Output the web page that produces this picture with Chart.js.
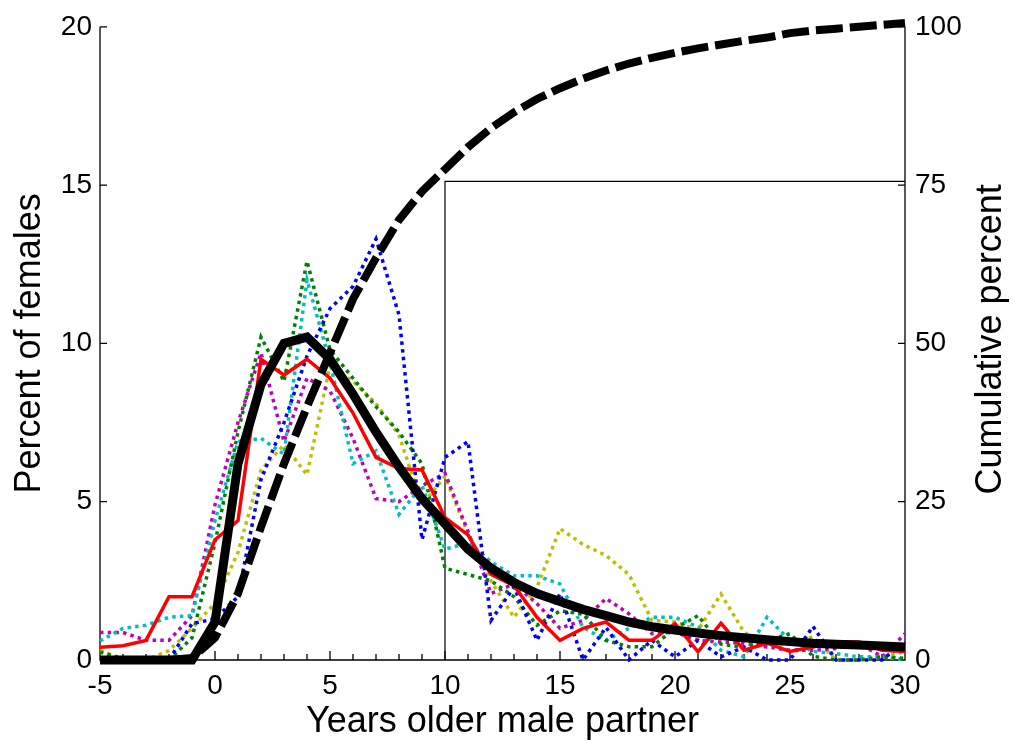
<!DOCTYPE html>
<html><head><meta charset="utf-8">
<script src="https://cdn.jsdelivr.net/npm/chart.js@4/dist/chart.umd.min.js"></script>
<style>html,body{margin:0;padding:0;background:#fff;overflow:hidden}</style>
</head><body>
<canvas id="c" width="1013" height="749"></canvas>
<script>
// ---- data (x = years older male partner, -5 .. 30) ----
const years = [-5,-4,-3,-2,-1,0,1,2,3,4,5,6,7,8,9,10,11,12,13,14,15,16,17,18,19,20,21,22,23,24,25,26,27,28,29,30];
const fitted = [0,0,0,0,0,1.2,6.2,8.7,10.0,10.2,9.5,8.4,7.2,6.1,5.1,4.3,3.5,2.9,2.45,2.1,1.85,1.6,1.4,1.2,1.05,0.95,0.85,0.77,0.7,0.64,0.58,0.53,0.5,0.47,0.44,0.41];
const cumulative = [0,0,0,0,0.3,3.5,10.5,21,31,40,48.5,57,63.5,69.5,74,77.5,81,84,86.5,88.6,90.3,91.8,93.1,94.2,95.1,95.9,96.6,97.2,97.8,98.3,99.0,99.4,99.7,100.0,100.3,100.6];
const seriesRed = [0.4,0.45,0.62,2.0,2.0,3.8,4.4,9.5,9.0,9.5,8.9,7.8,6.4,6.05,6.0,4.5,3.95,2.7,2.35,1.35,0.62,1.0,1.2,0.62,0.62,1.15,0.26,1.16,0.31,0.53,0.27,0.41,0.57,0.57,0.31,0.27];
const seriesGreen = [0.25,0.05,0,0,0.7,3.7,7.2,10.2,8.8,12.6,9.8,8.9,8.0,7.2,6.2,2.9,2.7,2.5,2.0,1.1,1.55,1.45,0.62,0.42,0.42,1.0,1.4,0.5,0.4,0.62,0.83,0.12,0,0,0.1,0.05];
const seriesCyan = [0.6,1.0,1.1,1.35,1.4,4.4,6.9,7.0,6.5,12.0,9.4,6.2,6.6,4.6,5.5,3.5,3.7,3.1,2.66,2.66,2.4,1.03,0.62,1.0,1.35,1.35,1.04,0.31,0.1,1.35,0.62,0.27,0.2,0.1,0.1,0];
const seriesMagenta = [0.87,0.87,0.62,0.62,1.4,4.9,7.5,9.7,6.9,8.9,8.5,7.0,5.1,5.0,5.5,5.9,4.06,2.1,2.4,1.78,1.0,1.25,1.94,1.46,0.83,0.88,0.62,0.57,0.53,0.41,0.31,0.31,0.36,0.53,0.1,0.83];
const seriesYellow = [0.3,0,0,0.3,1.0,1.8,3.4,6.0,6.8,5.85,9.3,8.8,8.1,7.1,4.9,5.8,4.0,2.5,1.35,2.3,4.15,3.65,3.3,2.7,1.25,1.2,0.94,2.08,0.88,0.41,0.53,0.73,0,0,0.1,0.26];
const seriesBlue = [0,0,0,0,1.15,1.3,2.0,5.7,7.5,9.6,11.1,11.8,13.3,10.9,3.8,6.4,6.9,1.25,2.3,0.62,2.1,0,1.03,0,0.62,0.1,0.62,0.1,0.41,0,0,1.06,0,0,0,0.57];
const boxX = [10,10,30];
const boxY = [0,15.12,15.12];
const xTicks = [-5,0,5,10,15,20,25,30];
const leftTicks = [0,5,10,15,20];
const rightTicks = [0,25,50,75,100];
const xTitle = 'Years older male partner';
const yTitle = 'Percent of females';
const y2Title = 'Cumulative percent';

const FONT = '"Liberation Sans", Arial, sans-serif';
const pts = (ys) => ys.map((v,i)=>({x:years[i], y:v}));

function dotted(label, color, data, order){
  return {label, data: pts(data), borderColor: color, borderWidth: 3.5, borderDash:[3.5,4.2],
    borderCapStyle:'butt', pointRadius:0, tension:0, fill:false, clip:false, yAxisID:'y', order};
}

const axesPlugin = {
  id:'axesPlugin',
  beforeDatasetsDraw(chart){
    const {ctx, chartArea:a, scales} = chart;
    const x = scales.x, y = scales.y, y2 = scales.y2;
    ctx.save();
    ctx.strokeStyle = '#000'; ctx.lineWidth = 1.3;
    ctx.beginPath();
    ctx.moveTo(a.left, a.top); ctx.lineTo(a.left, a.bottom); ctx.lineTo(a.right, a.bottom); ctx.lineTo(a.right, a.top);
    for (let v = xTicks[0]; v <= xTicks[xTicks.length-1]; v++) {
      const px = x.getPixelForValue(v);
      const len = xTicks.includes(v) ? 9 : 6;
      ctx.moveTo(px, a.bottom); ctx.lineTo(px, a.bottom - len);
    }
    for (const v of leftTicks) { const py = y.getPixelForValue(v); ctx.moveTo(a.left, py); ctx.lineTo(a.left + 7, py); }
    for (const v of rightTicks) { const py = y2.getPixelForValue(v); ctx.moveTo(a.right, py); ctx.lineTo(a.right - 7, py); }
    ctx.stroke();
    ctx.restore();
  },
  afterDraw(chart){
    const {ctx, chartArea:a} = chart;
    ctx.save();
    ctx.fillStyle = '#000';
    ctx.font = '36px ' + FONT;
    ctx.textAlign = 'center'; ctx.textBaseline = 'middle';
    ctx.translate(991, (a.top + a.bottom)/2 - 4);
    ctx.rotate(-Math.PI/2);
    ctx.fillText(y2Title, 0, 0);
    ctx.restore();
  }
};

new Chart(document.getElementById('c'), {
  type:'line',
  data:{ datasets:[
    {label:'Cumulative percent', data: pts(cumulative), yAxisID:'y2', borderColor:'#000', borderWidth:8,
     borderDash:[27,7], borderCapStyle:'butt', pointRadius:0, tension:0, fill:false, clip:false, order:0},
    {label:'Fitted', data: pts(fitted), yAxisID:'y', borderColor:'#000', borderWidth:9,
     pointRadius:0, tension:0, fill:false, clip:false, order:1},
    {label:'Red', data: pts(seriesRed), yAxisID:'y', borderColor:'#ff0000', borderWidth:3.5,
     pointRadius:0, tension:0, fill:false, clip:false, order:2},
    dotted('Blue', '#0000ff', seriesBlue, 3),
    dotted('Green', '#008000', seriesGreen, 4),
    dotted('Cyan', '#00bfbf', seriesCyan, 5),
    dotted('Magenta', '#bf00bf', seriesMagenta, 6),
    dotted('Yellow', '#bfbf00', seriesYellow, 7),
    {label:'Box', data: boxX.map((v,i)=>({x:v, y:boxY[i]})), yAxisID:'y', borderColor:'#000', borderWidth:1.2,
     pointRadius:0, tension:0, fill:false, clip:false, order:8}
  ]},
  options:{
    responsive:false, animation:false, devicePixelRatio:1,
    layout:{padding:{top:20,left:0,right:0,bottom:0}},
    plugins:{legend:{display:false}, tooltip:{enabled:false}},
    scales:{
      x:{type:'linear', position:'bottom', min:-5, max:30,
         afterFit(s){ s.height = 89; },
         afterBuildTicks(s){ s.ticks = xTicks.map(v=>({value:v})); },
         grid:{display:false, drawTicks:false}, border:{display:false},
         ticks:{color:'#000', padding:9, maxRotation:0, autoSkip:false, font:{family:FONT, size:28}},
         title:{display:true, text:xTitle, color:'#000', font:{family:FONT, size:36}, padding:{top:0,bottom:5.4}}},
      y:{type:'linear', position:'left', min:0, max:20,
         afterFit(s){ s.width = 100; },
         afterBuildTicks(s){ s.ticks = leftTicks.map(v=>({value:v})); },
         grid:{display:false, drawTicks:false}, border:{display:false},
         ticks:{color:'#000', padding:8, font:{family:FONT, size:28}},
         title:{display:true, text:yTitle, color:'#000', font:{family:FONT, size:36}, padding:{top:8.4,bottom:0}}},
      y2:{type:'linear', position:'right', min:0, max:100,
         afterFit(s){ s.width = 108; },
         afterBuildTicks(s){ s.ticks = rightTicks.map(v=>({value:v})); },
         grid:{display:false, drawTicks:false}, border:{display:false},
         ticks:{color:'#000', padding:10, font:{family:FONT, size:28}}}
    }
  },
  plugins:[axesPlugin]
});
</script>
</body></html>
